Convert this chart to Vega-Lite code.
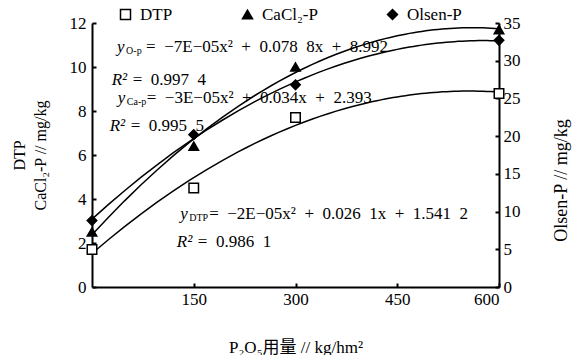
{
  "$schema": "https://vega.github.io/schema/vega-lite/v6.json",
  "width": 407,
  "height": 264,
  "autosize": "none",
  "padding": {"left": 92, "top": 23, "right": 74, "bottom": 68},
  "background": "white",
  "config": {
    "view": {"stroke": null},
    "font": "Liberation Serif, Noto Sans CJK SC",
    "axis": {
      "domainColor": "black", "domainWidth": 2,
      "ticks": true, "tickColor": "black", "tickWidth": 2, "tickSize": -4,
      "labelFontSize": 17, "labelColor": "black", "labelFont": "Liberation Serif",
      "titleColor": "black", "titleFontWeight": "normal", "titleFont": "Liberation Serif, Noto Sans CJK SC",
      "grid": false
    },
    "legend": {
      "orient": "none", "legendX": 25, "legendY": -17, "direction": "horizontal",
      "gridAlign": "none", "columnPadding": 66,
      "labelFontSize": 17, "labelFont": "Liberation Serif", "labelColor": "black",
      "symbolSize": 100, "symbolStrokeColor": "black", "symbolStrokeWidth": 1.5, "labelOffset": 6
    },
    "text": {"font": "Liberation Serif", "fontSize": 17, "color": "black"}
  },
  "datasets": {
    "pts": [
      {"series": "DTP", "x": 0, "y": 1.7},
      {"series": "DTP", "x": 150, "y": 4.5},
      {"series": "DTP", "x": 300, "y": 7.7},
      {"series": "DTP", "x": 600, "y": 8.8},
      {"series": "CaCl₂-P", "x": 0, "y": 2.5},
      {"series": "CaCl₂-P", "x": 150, "y": 6.4},
      {"series": "CaCl₂-P", "x": 300, "y": 10.0},
      {"series": "CaCl₂-P", "x": 600, "y": 11.7},
      {"series": "Olsen-P", "x": 0, "y": 8.8},
      {"series": "Olsen-P", "x": 150, "y": 20.2},
      {"series": "Olsen-P", "x": 300, "y": 26.8},
      {"series": "Olsen-P", "x": 600, "y": 32.7}
    ],
    "eqs": [
      {"x": 37, "y": 10.9, "sub": "O-p", "eq": "=\u2002\u22127E\u221205x\u00b2\u2002+\u20020.078\u20028x\u2002+\u20028.992"},
      {"x": 38, "y": 8.6, "sub": "Ca-p", "eq": "=\u2002\u22123E\u221205x\u00b2\u2002+\u20020.034x\u2002+\u20022.393"},
      {"x": 130, "y": 3.3, "sub": "DTP", "eq": "=\u2002\u22122E\u221205x\u00b2\u2002+\u20020.026\u20021x\u2002+\u20021.541\u20022"}
    ],
    "r2": [
      {"x": 29, "y": 9.4, "val": "=\u20020.997\u20024"},
      {"x": 26, "y": 7.3, "val": "=\u20020.995\u20025"},
      {"x": 125, "y": 2.05, "val": "=\u20020.986\u20021"}
    ]
  },
  "encoding": {
    "x": {
      "field": "x", "type": "quantitative",
      "scale": {"domain": [0, 600], "nice": false, "zero": false},
      "axis": {
        "values": [150, 300, 450, 600], "title": "P₂O₅用量 // kg/hm²",
        "labelPadding": 8, "titleFontSize": 17,
        "titleX": 203.5, "titleY": 60, "titleBaseline": "middle", "titleAnchor": null
      }
    }
  },
  "layer": [
    {
      "encoding": {
        "y": {
          "field": "y", "type": "quantitative",
          "scale": {"domain": [0, 12], "nice": false},
          "axis": {
            "orient": "left", "values": [0, 2, 4, 6, 8, 10, 12],
            "title": ["DTP", "CaCl₂-P // mg/kg"], "titleFontSize": 16, "titleLineHeight": 21,
            "titleAngle": -90, "titleX": -73, "titleY": 132, "titleAlign": "center", "titleBaseline": "middle",
            "labelPadding": 10
          }
        }
      },
      "layer": [
        {
          "data": {"name": "pts"},
          "transform": [
            {"filter": "datum.series !== 'Olsen-P'"},
            {"regression": "y", "on": "x", "groupby": ["series"], "method": "poly", "order": 2, "extent": [0, 600]}
          ],
          "mark": {"type": "line", "color": "black", "strokeWidth": 1.5},
          "encoding": {"detail": {"field": "series"}}
        },
        {
          "data": {"name": "pts"},
          "transform": [{"filter": "datum.series !== 'Olsen-P'"}],
          "mark": {"type": "point", "filled": true, "strokeWidth": 1.5, "size": 90, "opacity": 1},
          "encoding": {
            "shape": {"field": "series", "type": "nominal", "scale": {"domain": ["DTP", "CaCl₂-P", "Olsen-P"], "range": ["square", "triangle-up", "diamond"]}, "legend": {"title": null}},
            "fill": {"field": "series", "type": "nominal", "scale": {"domain": ["DTP", "CaCl₂-P", "Olsen-P"], "range": ["white", "black", "black"]}, "legend": {"title": null}},
            "stroke": {"field": "series", "type": "nominal", "scale": {"domain": ["DTP", "CaCl₂-P", "Olsen-P"], "range": ["black", "black", "black"]}, "legend": {"title": null}}
          }
        },
        {
          "data": {"name": "eqs"},
          "mark": {"type": "text", "text": "y", "fontStyle": "italic", "align": "left", "baseline": "middle"}
        },
        {
          "data": {"name": "eqs"},
          "mark": {"type": "text", "align": "left", "baseline": "middle", "fontSize": 10, "dx": 9, "dy": 4},
          "encoding": {"text": {"field": "sub"}}
        },
        {
          "data": {"name": "eqs"},
          "mark": {"type": "text", "align": "left", "baseline": "middle", "dx": 29},
          "encoding": {"text": {"field": "eq"}}
        },
        {
          "data": {"name": "r2"},
          "mark": {"type": "text", "text": "R²", "fontStyle": "italic", "align": "left", "baseline": "middle"}
        },
        {
          "data": {"name": "r2"},
          "mark": {"type": "text", "align": "left", "baseline": "middle", "dx": 21},
          "encoding": {"text": {"field": "val"}}
        }
      ]
    },
    {
      "data": {"name": "pts"},
      "transform": [{"filter": "datum.series === 'Olsen-P'"}],
      "encoding": {
        "y": {
          "field": "y", "type": "quantitative",
          "scale": {"domain": [0, 35], "nice": false},
          "axis": {
            "orient": "right", "values": [0, 5, 10, 15, 20, 25, 30, 35],
            "title": "Olsen-P // mg/kg", "titleFontSize": 18,
            "titleAngle": -90, "titleX": 62, "titleY": 157, "titleAlign": "center", "titleBaseline": "middle",
            "labelPadding": 8
          }
        }
      },
      "layer": [
        {
          "transform": [{"regression": "y", "on": "x", "method": "poly", "order": 2, "extent": [0, 600]}],
          "mark": {"type": "line", "color": "black", "strokeWidth": 1.5}
        },
        {
          "mark": {"type": "point", "filled": true, "strokeWidth": 1.5, "size": 90, "opacity": 1},
          "encoding": {
            "shape": {"field": "series", "type": "nominal", "scale": {"domain": ["DTP", "CaCl₂-P", "Olsen-P"], "range": ["square", "triangle-up", "diamond"]}, "legend": {"title": null}},
            "fill": {"field": "series", "type": "nominal", "scale": {"domain": ["DTP", "CaCl₂-P", "Olsen-P"], "range": ["white", "black", "black"]}, "legend": {"title": null}},
            "stroke": {"field": "series", "type": "nominal", "scale": {"domain": ["DTP", "CaCl₂-P", "Olsen-P"], "range": ["black", "black", "black"]}, "legend": {"title": null}}
          }
        }
      ]
    }
  ],
  "resolve": {"scale": {"y": "independent"}}
}
